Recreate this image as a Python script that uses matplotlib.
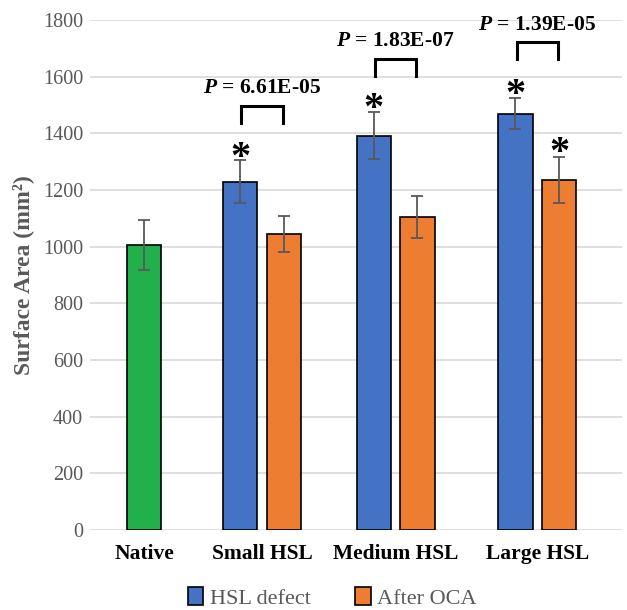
import numpy as np
import matplotlib
matplotlib.use("Agg")
import matplotlib.pyplot as plt
from matplotlib.patches import Patch

# ---------------------------------------------------------------------------
# Data
# ---------------------------------------------------------------------------
categories = ["Native", "Small HSL", "Medium HSL", "Large HSL"]

native_mean = 1006
native_err = 87

defect_mean = [1229, 1392, 1470]     # HSL defect
defect_err = [76, 83, 55]
oca_mean = [1045, 1105, 1236]        # After OCA
oca_err = [62, 74, 82]

p_labels = ["6.61E-05", "1.83E-07", "1.39E-05"]
p_bracket_top = [1497, 1663, 1722]
defect_star = [True, True, True]
oca_star = [False, False, True]

# ---------------------------------------------------------------------------
# Style
# ---------------------------------------------------------------------------
GREEN = "#21b04b"
BLUE = "#4472c4"
ORANGE = "#ed7d31"
GREY = "#595959"
SERIF = "Liberation Serif"

plt.rcParams["font.family"] = SERIF
plt.rcParams["mathtext.fontset"] = "custom"
plt.rcParams["mathtext.rm"] = SERIF
plt.rcParams["mathtext.it"] = SERIF + ":italic"
plt.rcParams["mathtext.bf"] = SERIF + ":bold"
plt.rcParams["mathtext.bfit"] = SERIF + ":italic:bold"

group_x = np.array([0.0, 1.0, 2.13, 3.33])   # category centres (uneven, as in source)
width = 0.29
off = 0.185

fig = plt.figure(figsize=(6.27, 6.10), dpi=100)
ax = fig.add_axes([0.1435, 0.131, 0.849, 0.836])

err_kw = dict(ecolor=GREY, elinewidth=1.3, capsize=4, capthick=1.3)

ax.bar(group_x[0], native_mean, width, yerr=native_err, color=GREEN,
       edgecolor="black", linewidth=1.2, error_kw=err_kw, zorder=3)
xb = group_x[1:] - off
xo = group_x[1:] + off
ax.bar(xb, defect_mean, width, yerr=defect_err, color=BLUE,
       edgecolor="black", linewidth=1.2, error_kw=err_kw, zorder=3)
ax.bar(xo, oca_mean, width, yerr=oca_err, color=ORANGE,
       edgecolor="black", linewidth=1.2, error_kw=err_kw, zorder=3)

# significance asterisks
for i in range(3):
    if defect_star[i]:
        ax.text(xb[i], defect_mean[i] + defect_err[i] + 8, "*",
                ha="center", va="center", fontsize=29, fontweight="bold")
    if oca_star[i]:
        ax.text(xo[i], oca_mean[i] + oca_err[i] + 12, "*",
                ha="center", va="center", fontsize=29, fontweight="bold")

# P-value brackets
for i in range(3):
    top = p_bracket_top[i]
    ax.plot([xb[i] + 0.01, xb[i] + 0.01, xo[i] - 0.01, xo[i] - 0.01],
            [top - 60, top, top, top - 60], color="black", linewidth=2.2,
            solid_joinstyle="miter", zorder=4)
    ax.text((xb[i] + xo[i]) / 2, top + 62,
            r"$\bfit{P}$" + " = " + p_labels[i], ha="center", va="center",
            fontsize=15.5, fontweight="bold")

ax.set_ylim(0, 1800)
ax.set_xlim(-0.458, 4.05)
ax.set_yticks(np.arange(0, 1801, 200))
ax.yaxis.grid(True, color="#d9d9d9", linewidth=1.2, zorder=0)
ax.set_axisbelow(True)
for s in ax.spines.values():
    s.set_visible(False)
ax.tick_params(axis="both", length=0)
ax.tick_params(axis="y", labelsize=14.5, labelcolor=GREY, pad=5)
ax.set_xticks(group_x)
ax.set_xticklabels(categories, fontsize=15.5, fontweight="bold")
ax.tick_params(axis="x", pad=10)

ax.set_ylabel("Surface Area (mm²)", fontsize=17,
              fontweight="bold", color=GREY, labelpad=6)

handles = [Patch(facecolor=BLUE, edgecolor="black", linewidth=1.2),
           Patch(facecolor=ORANGE, edgecolor="black", linewidth=1.2)]
leg = fig.legend(handles, ["HSL defect", "After OCA"], loc="center",
                 bbox_to_anchor=(0.53, 0.02), ncol=2, frameon=False,
                 fontsize=16, handlelength=0.7, handleheight=0.9,
                 handletextpad=0.3, columnspacing=2.0)
for t in leg.get_texts():
    t.set_color(GREY)

fig.savefig("out.png", dpi=100)
